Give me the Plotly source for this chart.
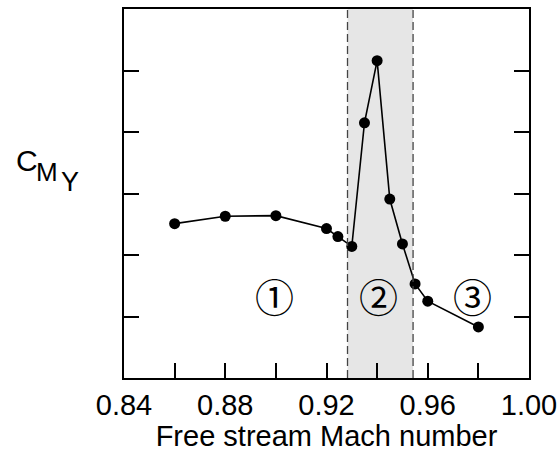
import plotly.graph_objects as go

mach = [0.86, 0.88, 0.90, 0.92, 0.9245, 0.93, 0.935, 0.94, 0.945, 0.95, 0.955, 0.96, 0.98]
cmy = [2.51, 2.63, 2.64, 2.43, 2.30, 2.14, 4.15, 5.16, 2.91, 2.18, 1.53, 1.25, 0.83]

x_tick_vals = [0.84, 0.86, 0.88, 0.90, 0.92, 0.94, 0.96, 0.98, 1.00]
x_tick_text = ["0.84", "", "0.88", "", "0.92", "", "0.96", "", "1.00"]
y_tick_vals = [1, 2, 3, 4, 5]

band = [0.9283, 0.9542]
region_labels = ["①", "②", "③"]
region_x = [0.8996, 0.9404, 0.9776]
region_y = [1.35, 1.35, 1.35]

FONT = "Liberation Sans, Arial, Helvetica, sans-serif"

fig = go.Figure()

fig.add_shape(type="rect", xref="x", yref="paper", x0=band[0], x1=band[1], y0=0, y1=1,
              fillcolor="#e6e6e6", line=dict(width=0), layer="below")
for bx in band:
    fig.add_shape(type="line", xref="x", yref="paper", x0=bx, x1=bx, y0=0, y1=1,
                  line=dict(color="#444444", width=1.3, dash="8px,4px"), layer="above")

fig.add_trace(go.Scatter(x=mach, y=cmy, mode="lines+markers",
                         line=dict(color="black", width=1.6),
                         marker=dict(color="black", size=11),
                         showlegend=False, hoverinfo="skip"))

for lab, lx, ly in zip(region_labels, region_x, region_y):
    fig.add_annotation(x=lx, y=ly, xref="x", yref="y", text=lab, showarrow=False,
                       font=dict(family="Noto Sans CJK JP", size=39, color="black"))

# y-axis label C_{M_Y}
fig.add_annotation(xref="paper", yref="paper", x=-0.2395, y=0.59, text="C", showarrow=False,
                   xanchor="center", yanchor="middle", font=dict(family=FONT, size=30, color="black"))
fig.add_annotation(xref="paper", yref="paper", x=-0.1889, y=0.557, text="M", showarrow=False,
                   xanchor="center", yanchor="middle", font=dict(family=FONT, size=26, color="black"))
fig.add_annotation(xref="paper", yref="paper", x=-0.1333, y=0.531, text="Y", showarrow=False,
                   xanchor="center", yanchor="middle", font=dict(family=FONT, size=27, color="black"))

fig.update_layout(
    width=558, height=452,
    margin=dict(l=124, r=29, t=9, b=74, autoexpand=False),
    paper_bgcolor="white", plot_bgcolor="white",
    font=dict(family=FONT, size=29, color="black"),
    xaxis=dict(range=[0.84, 1.00], tickvals=x_tick_vals, ticktext=x_tick_text,
               ticks="inside", ticklen=15, tickwidth=1.5, tickcolor="black",
               showline=True, linecolor="black", linewidth=1.5, mirror=True,
               showgrid=False, zeroline=False, automargin=False,
               title=dict(text="Free stream Mach number", standoff=0,
                          font=dict(family=FONT, size=29)),
               tickfont=dict(family=FONT, size=29)),
    yaxis=dict(range=[0, 6], tickvals=y_tick_vals, showticklabels=False,
               ticks="inside", ticklen=15, tickwidth=1.5, tickcolor="black",
               showline=True, linecolor="black", linewidth=1.5, mirror="ticks",
               showgrid=False, zeroline=False, automargin=False),
)

fig.write_html("out.html")
